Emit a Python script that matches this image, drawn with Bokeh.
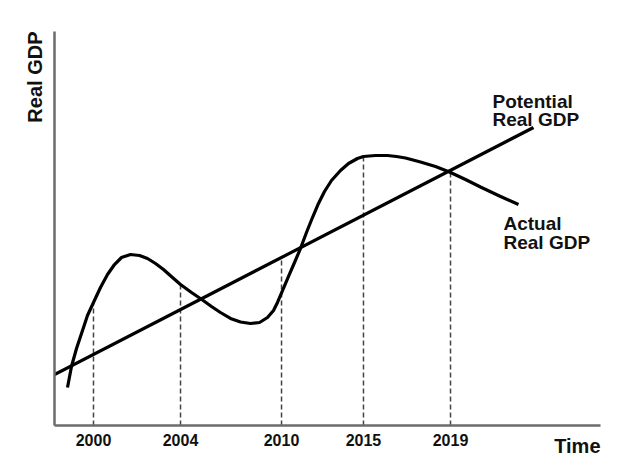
import numpy as np
from bokeh.plotting import figure
from bokeh.models import Label, Range1d, Title
from bokeh.embed import file_html
from bokeh.resources import INLINE

# ---- data (abstract units: time 0-100, real GDP 0-100) ----
tick_positions = [7.14, 23.08, 41.58, 56.59, 72.53]
tick_labels = ["2000", "2004", "2010", "2015", "2019"]

potential_x = [0.0, 87.73]
potential_y = [12.94, 75.63]

actual_x = [2.38, 3.11, 4.03, 5.13, 6.04, 7.14, 8.42, 9.71, 10.99, 12.27,
            13.92, 15.57, 17.03, 18.50, 19.96, 21.61, 23.08, 25.09, 27.11, 28.75,
            30.40, 32.23, 34.07, 35.90, 37.55, 39.01, 40.11, 40.84, 41.76, 42.86,
            43.96, 45.05, 46.15, 47.25, 48.35, 49.45, 50.73, 52.38, 53.85, 55.49,
            56.59, 58.79, 60.99, 62.64, 64.29, 67.03, 69.78, 72.34, 75.27, 78.02,
            81.50, 84.98]
actual_y = [9.64, 14.97, 19.54, 24.11, 27.92, 31.22, 35.03, 38.32, 40.86, 42.64,
            43.40, 43.15, 42.39, 41.12, 39.59, 37.56, 35.79, 33.76, 31.85, 30.20,
            28.68, 27.16, 26.27, 25.89, 26.14, 27.41, 29.19, 31.22, 34.26, 37.82,
            41.37, 44.92, 48.98, 52.79, 56.35, 59.39, 62.18, 64.72, 66.50, 67.77,
            68.27, 68.53, 68.53, 68.27, 67.89, 66.88, 65.74, 64.34, 62.44, 60.53,
            58.25, 56.09]

FONT = "Liberation Sans"

p = figure(width=620, height=476, output_backend="svg", toolbar_location=None,
           x_range=Range1d(0, 100), y_range=Range1d(0, 100),
           min_border_left=54, min_border_right=20, min_border_top=31,
           min_border_bottom=51)
p.outline_line_color = None
p.xgrid.visible = False
p.ygrid.visible = False
p.background_fill_color = "white"
p.border_fill_color = "white"

# axes
for ax in (p.xaxis[0], p.yaxis[0]):
    ax.axis_line_color = "#6b6b6b"
    ax.axis_line_width = 2.5
    ax.major_tick_line_color = None
    ax.minor_tick_line_color = None
    ax.major_tick_out = 0
    ax.major_tick_in = 0
p.yaxis.ticker = []
p.yaxis.major_label_text_font_size = "0px"
p.xaxis.ticker = tick_positions
p.xaxis.major_label_overrides = {t: l for t, l in zip(tick_positions, tick_labels)}
p.xaxis.major_label_text_font = FONT
p.xaxis.major_label_text_font_style = "bold"
p.xaxis.major_label_text_font_size = "16px"
p.xaxis.major_label_text_color = "#111111"
p.xaxis.major_label_standoff = 8

# dashed verticals up to the higher of the two curves
for t in tick_positions:
    a = float(np.interp(t, actual_x, actual_y))
    pot = float(np.interp(t, potential_x, potential_y))
    p.line([t, t], [0, max(a, pot)], line_color="#444444", line_width=1.5,
           line_dash="5 3")

p.line(potential_x, potential_y, line_color="black", line_width=3.2)
p.line(actual_x, actual_y, line_color="black", line_width=3.2,
       line_join="round", line_cap="butt")

def lab(x, y, text, size="19px"):
    p.add_layout(Label(x=x, y=y, text=text, text_font=FONT, text_font_style="bold",
                       text_font_size=size, text_align="left",
                       text_baseline="alphabetic", text_color="#111111"))

lab(80.22, 82.23, "Potential")
lab(80.22, 77.66, "Real GDP")
lab(82.23, 51.27, "Actual")
lab(82.23, 46.45, "Real GDP")

# axis titles placed in the side panels
p.add_layout(Title(text="Real GDP", align="right", text_font=FONT,
                   text_font_style="bold", text_font_size="20px",
                   text_color="#111111", standoff=17), "left")
p.add_layout(Title(text="Time", align="right", vertical_align="top",
                   text_font=FONT, text_font_style="bold", text_font_size="20px",
                   text_color="#111111", standoff=-28), "below")

open("out.html", "w").write(file_html(p, INLINE))
